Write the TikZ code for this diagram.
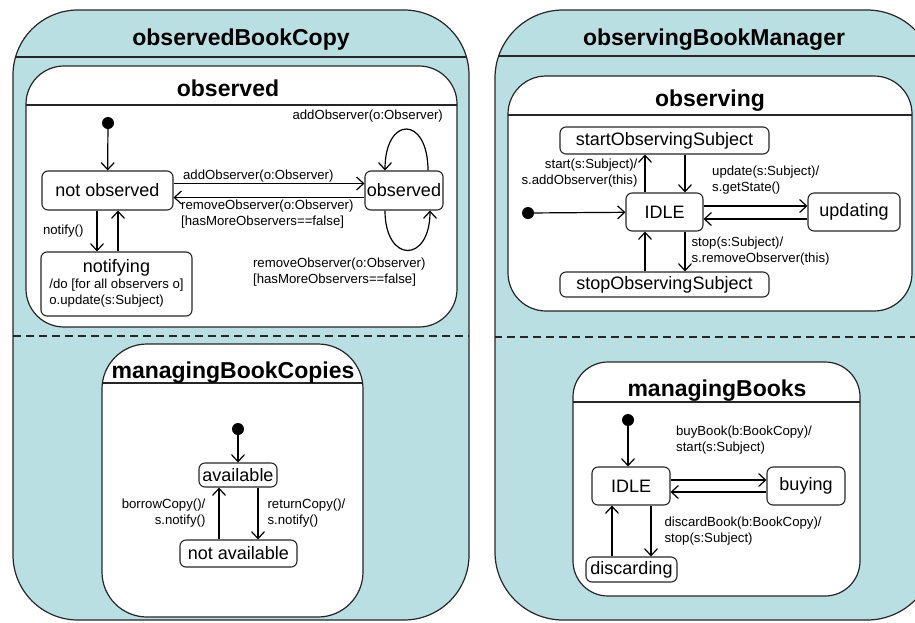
\documentclass[tikz,border=0pt]{standalone}
\usepackage{fontspec}
\setmainfont{Liberation Sans}
\usetikzlibrary{arrows.meta,positioning}
\definecolor{regionblue}{RGB}{185,223,226}
\newcommand\titlefont{\fontsize{23}{27}\selectfont\bfseries}
\newcommand\statefont{\fontsize{18}{21}\selectfont}
\newcommand\labelfont{\fontsize{13.2}{16}\selectfont}

\begin{document}
\begin{tikzpicture}[x=1pt,y=-1pt,
    region/.style={draw=black!85, line width=1.2pt, fill=regionblue},
    sub/.style={draw=black!85, line width=1.2pt, fill=white},
    state/.style={draw=black!85, line width=1.1pt, rounded corners=6pt, inner sep=2pt, font=\statefont},
    startdot/.style={circle, fill=black, minimum size=12pt, inner sep=0pt},
    trans/.style={-{Straight Barb[length=7pt,width=13pt]}, line width=1.2pt},
    lab/.style={font=\labelfont, inner sep=1pt},
    ttl/.style={font=\titlefont, anchor=base}]
    \useasboundingbox (0,0) rectangle (915,622);
    \clip (0,0) rectangle (915,622);

    % observedBookCopy
    \draw[region, rounded corners=65pt, path picture={
        \draw[line width=1.2pt] (0,57) -- (1000,57);
        \draw[line width=1.6pt, dash pattern=on 8pt off 5pt] (0,336) -- (1000,336);}]
        (13,10) rectangle (469,620);
    \node[ttl] (tBookCopy) at (241,45) {observedBookCopy};

    % observed
    \draw[sub, rounded corners=38pt, path picture={\draw[line width=1.2pt] (0,105) -- (1000,105);}]
        (26,66) rectangle (457,327);
    \node[ttl] (tObserved) at (228,96) {observed};
    \node[startdot] (init1) at (108,123) {};
    \node[state, minimum width=131pt, minimum height=39pt] (notobs) at (107.5,190.5) {not observed};
    \node[state, minimum width=78pt, minimum height=39pt] (obs) at (404,190.5) {observed};
    \node[state, minimum width=151pt, minimum height=64pt, font=\labelfont] (notifying) at (116.5,284)
        {\begin{tabular}{@{}l@{}}\multicolumn{1}{@{}c@{}}{\statefont notifying}\\ /do [for all observers o]\\ o.update(s:Subject)\end{tabular}};
    \draw[trans] (init1) -- (notobs);
    \draw[trans] ([yshift=7pt]notobs.east) -- ([yshift=7pt]obs.west)
        node[lab, pos=0, anchor=south west, xshift=8pt] {addObserver(o:Observer)};
    \draw[trans] ([yshift=-7pt]obs.west) -- ([yshift=-7pt]notobs.east)
        node[lab, pos=1, anchor=north west, xshift=6pt, yshift=-1pt, align=left] {removeObserver(o:Observer)\\{}[hasMoreObservers==false]};
    \draw[trans] ([xshift=24pt]obs.north) .. controls +(0,-55) and +(0,-55) .. ([xshift=-19pt]obs.north)
        node[lab, pos=0.5, anchor=south east, xshift=38pt, yshift=5pt] {addObserver(o:Observer)};
    \draw[trans] ([xshift=-19pt]obs.south) .. controls +(0,53) and +(0,53) .. ([xshift=26pt]obs.south)
        node[lab, pos=0.5, anchor=north west, xshift=-156pt, yshift=-6pt, align=left] {removeObserver(o:Observer)\\{}[hasMoreObservers==false]};
    \draw[trans] ([xshift=-10.5pt]notobs.south) -- ([xshift=-10.5pt]notobs.south |- notifying.north)
        node[lab, pos=0.5, left=12pt] {notify()};
    \draw[trans] ([xshift=10.5pt]notobs.south |- notifying.north) -- ([xshift=10.5pt]notobs.south);

    % managingBookCopies
    \draw[sub, rounded corners=45pt, path picture={\draw[line width=1.2pt] (0,383) -- (1000,383);}]
        (102,344) rectangle (363,617);
    \node[ttl] (tCopies) at (233,378) {managingBookCopies};
    \node[startdot] (init2) at (238,429) {};
    \node[state, minimum width=78pt, minimum height=24pt] (avail) at (238,475) {available};
    \node[state, minimum width=117pt, minimum height=27pt] (notavail) at (238.5,553.5) {not available};
    \draw[trans] (init2) -- (avail);
    \draw[trans] ([xshift=-19pt]avail.south |- notavail.north) -- ([xshift=-19pt]avail.south)
        node[lab, pos=0.5, left=12pt, align=right] {borrowCopy()/\\ s.notify()};
    \draw[trans] ([xshift=20pt]avail.south) -- ([xshift=20pt]avail.south |- notavail.north)
        node[lab, pos=0.5, right=8pt, align=left] {returnCopy()/\\ s.notify()};

    % observingBookManager
    \draw[region, rounded corners=68pt, path picture={
        \draw[line width=1.2pt] (0,56) -- (1000,56);
        \draw[line width=1.6pt, dash pattern=on 8pt off 5pt] (0,337) -- (1000,337);}]
        (495,10) rectangle (935,620);
    \node[ttl] (tManager) at (714,45) {observingBookManager};

    % observing
    \draw[sub, rounded corners=38pt, path picture={\draw[line width=1.2pt] (0,115) -- (1000,115);}]
        (508,76) rectangle (912,311);
    \node[ttl] (tObserving) at (710,106) {observing};
    \node[startdot] (init3) at (528,213) {};
    \node[state, minimum width=209pt, minimum height=27pt] (startobs) at (664.5,140.5) {startObservingSubject};
    \node[state, minimum width=77pt, minimum height=38pt] (idle1) at (664.5,212) {IDLE};
    \node[state, minimum width=92pt, minimum height=38pt] (updating) at (854,212) {updating};
    \node[state, minimum width=209pt, minimum height=25pt] (stopobs) at (664.5,284.5) {stopObservingSubject};
    \draw[trans] (init3) -- (idle1);
    \draw[trans] ([xshift=-19.5pt]idle1.north) -- ([xshift=-19.5pt]idle1.north |- startobs.south)
        node[lab, pos=0.5, left=6pt, align=right] {start(s:Subject)/\\ s.addObserver(this)};
    \draw[trans] ([xshift=20.5pt]idle1.north |- startobs.south) -- ([xshift=20.5pt]idle1.north);
    \draw[trans] ([yshift=6pt]idle1.east) -- ([yshift=6pt]updating.west)
        node[lab, pos=0, anchor=south west, xshift=7pt, yshift=10pt, align=left] {update(s:Subject)/\\ s.getState()};
    \draw[trans] ([yshift=-7pt]updating.west) -- ([yshift=-7pt]idle1.east);
    \draw[trans] ([xshift=20.5pt]idle1.south) -- ([xshift=20.5pt]idle1.south |- stopobs.north)
        node[lab, pos=0.5, right=5pt, align=left] {stop(s:Subject)/\\ s.removeObserver(this)};
    \draw[trans] ([xshift=-19.5pt]idle1.south |- stopobs.north) -- ([xshift=-19.5pt]idle1.south);

    % managingBooks
    \draw[sub, rounded corners=35pt, path picture={\draw[line width=1.2pt] (0,402) -- (1000,402);}]
        (573,362) rectangle (860,596);
    \node[ttl] (tBooks) at (717,396) {managingBooks};
    \node[startdot] (init4) at (628,420) {};
    \node[state, minimum width=78pt, minimum height=38pt] (idle2) at (631,486) {IDLE};
    \node[state, minimum width=78pt, minimum height=38pt] (buying) at (806,486) {buying};
    \node[state, minimum width=91pt, minimum height=25pt] (discarding) at (631.5,569.5) {discarding};
    \draw[trans] (init4) -- (init4 |- idle2.north);
    \draw[trans] ([yshift=6pt]idle2.east) -- ([yshift=6pt]buying.west)
        node[lab, pos=0, anchor=south west, xshift=4pt, yshift=24pt, align=left] {buyBook(b:BookCopy)/\\ start(s:Subject)};
    \draw[trans] ([yshift=-6pt]buying.west) -- ([yshift=-6pt]idle2.east);
    \draw[trans] ([xshift=20pt]idle2.south) -- ([xshift=20pt]idle2.south |- discarding.north)
        node[lab, pos=0.5, right=12pt, align=left] {discardBook(b:BookCopy)/\\ stop(s:Subject)};
    \draw[trans] ([xshift=-19pt]idle2.south |- discarding.north) -- ([xshift=-19pt]idle2.south);
\end{tikzpicture}
\end{document}
